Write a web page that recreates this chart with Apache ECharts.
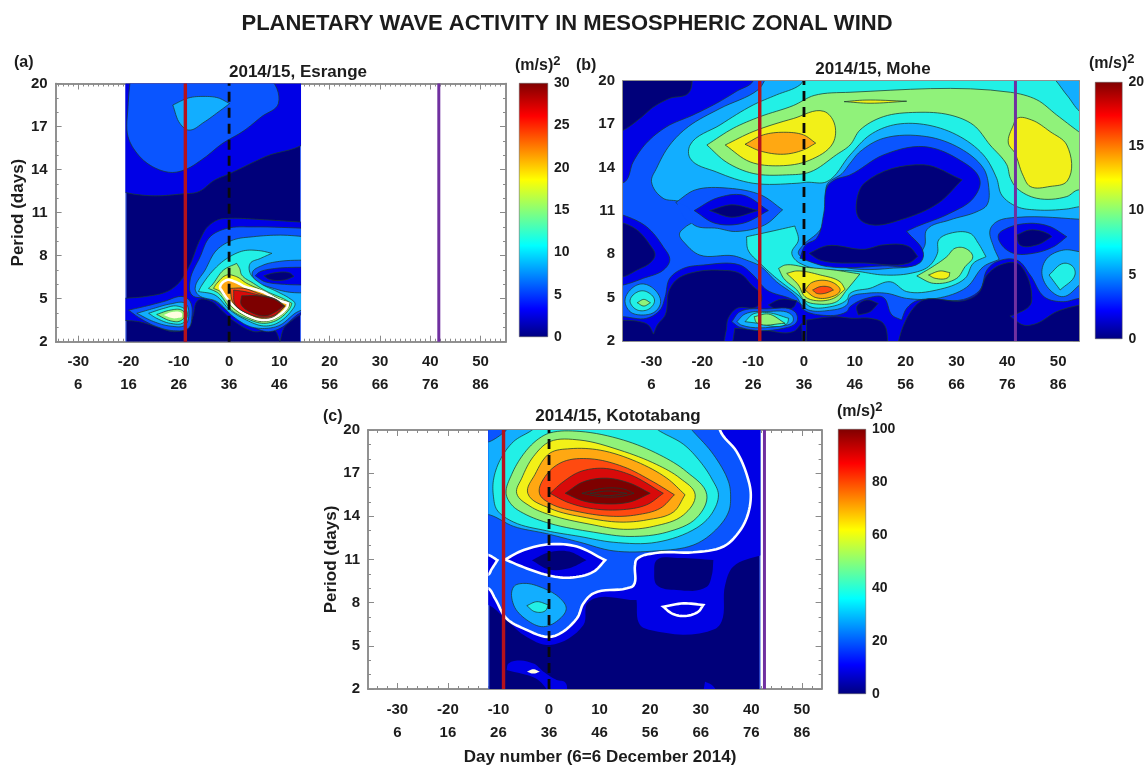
<!DOCTYPE html>
<html><head><meta charset="utf-8">
<style>html,body{margin:0;padding:0;background:#fff}#c{width:1147px;height:767px;filter:blur(0.5px)}</style>
<script src="https://cdn.jsdelivr.net/npm/echarts@6/dist/echarts.min.js"></script>
</head><body><div id="c"></div>
<script>
// ---------- contour bands (colour per band index, lowest to highest) ----------
const bandColors = ['#00007a','#0000e6','#0a55ff','#12aeff','#22f0e6','#90f27a','#f2f018','#ffa812','#ff4a10','#d80a0a','#7d0000'];
const PALE = 11; bandColors[PALE] = '#fffde0';

// ---------- axis labels ----------
const xTickLabels = [-30,-20,-10,0,10,20,30,40,50];
const dayNumberLabels = [6,16,26,36,46,56,66,76,86];
const periodTicks = [2,5,8,11,14,17,20];

// ---------- event lines (day) ----------
const esrangeLines = {red:-8.7, dash:0, purple:41.7};
const moheLines = {red:-8.7, dash:0, purple:41.6};
const kotoLines = {red:-9, dash:0, purple:42.6};

// ---------- contour outlines: [band, [[day, period],...], strokeKind]  painted in order ----------
const esrangeContours = [
 [0,[[-20.6,1],[14.3,1],[14.3,21],[-20.6,21]],'e'],
 [1,[[-22,12.57],[-20.6,12.4],[-15,12.17],[-9.4,12.3],[-6.1,12.45],[-2.9,13.26],[0,13.7],[7.2,14.9],[16,16.2],[16,21],[-22,21]]],
 [2,[[-19.6,20.5],[-20.1,18.4],[-20.1,16.3],[-18,15],[-15.2,14.2],[-11.6,13.8],[-8.7,14],[-5,14.8],[-1.4,15.8],[2.9,16.7],[6.5,17.7],[9.8,18.6],[7.6,20.5]]],
 [3,[[-11.2,18.5],[-8,19],[-5,19.1],[-2.2,19],[0.1,18.6],[-2.2,18],[-5,17.3],[-8,16.75],[-9.75,17.2]]],
 [1,[[-22,5],[-16.6,5.15],[-12.3,5.5],[-10.1,6.06],[-8,7.2],[-5.8,9.1],[-4.3,10],[-2.2,10.5],[0,10.6],[7,10.5],[16,10.3],[16,4.4],[13,3.6],[11,3],[10.1,2],[9,2.8],[5,2.7],[0.7,3.5],[-1.5,4.2],[-3.5,4.8],[-6.1,4.9],[-7.2,3.75],[-8,3.05],[-10.8,2.7],[-14.5,3.05],[-18,3.4],[-22,3.5]]],
 [2,[[-20,4.2],[-16.4,4.49],[-13,4.8],[-9.07,5.14],[-7.75,4.8],[-7.4,3.74],[-8.1,2.93],[-11.1,2.77],[-14.4,3.05],[-17.7,3.63]]],
 [3,[[-18.35,3.98],[-15,4.32],[-11.7,4.63],[-8.7,4.67],[-8,3.98],[-8.75,3.16],[-11.7,3.09],[-15,3.4]]],
 [4,[[-16,3.98],[-13,4.32],[-10.4,4.49],[-8.4,4.1],[-9.07,3.33],[-11.7,3.28],[-14.4,3.63]]],
 [5,[[-14.4,3.9],[-11.7,4.2],[-9.4,4.2],[-8.75,3.86],[-9.74,3.44],[-11.7,3.46]]],
 [PALE,[[-13,3.86],[-11.1,4.09],[-9.4,3.98],[-9.4,3.7],[-11.1,3.63]],'n'],
 [2,[[16,9.9],[4.85,10],[-0.45,9.9],[-3.77,9.32],[-5.76,7.92],[-7.75,6.3],[-7.4,5.25],[-3.77,5],[-0.45,4.2],[3.5,3.3],[7.5,2.7],[10.15,2.93],[13.5,3.86],[16,4.5]]],
 [3,[[16,9.3],[10.15,9.43],[4.85,9.32],[0.87,9.1],[-2.44,8.4],[-4.76,7],[-6.75,5.72],[-6.1,5.25],[-2.44,4.8],[0.87,3.74],[4.19,3.05],[7.5,2.93],[10.15,3.16],[13.1,3.98],[16,4.6]]],
 [2,[[16,7.7],[10,7.6],[6.5,7.3],[4.6,6.8],[5.5,6.2],[9,5.7],[12,5.45],[16,5.4]]],
 [1,[[16,7.2],[9,7.1],[6,6.85],[5.2,6.6],[7,6.2],[11,6],[16,5.95]]],
 [0,[[6.9,6.6],[9,6.8],[12,6.8],[12.9,6.55],[11,6.3],[8,6.35]]],
 [4,[[8.5,8.16],[6.2,8.34],[2.9,8.34],[-0.45,7.8],[-3.1,7],[-5.4,5.95],[-6.1,5.5],[-2.8,5.25],[0.2,4.2],[3.5,3.5],[6.8,3.1],[9.5,3.28],[12.5,4.2],[13.1,4.67],[12.1,5],[9.5,5.5],[6.2,6.07],[4.2,6.76],[4.2,7.46],[6.2,7.8]]],
 [5,[[1.5,7.46],[-1.1,7],[-3.4,5.95],[-4.1,5.72],[-2.1,5.37],[0.5,4.2],[3.85,3.56],[6.8,3.28],[9.5,3.5],[12.1,4.33],[12.5,4.67],[10.8,5],[7.5,5.5],[4.85,6.07],[2.5,6.65],[2.1,7.1]]],
 [6,[[-0.45,6.65],[-2.44,6.07],[-3.1,5.72],[-1.8,5.5],[0.87,4.32],[4.2,3.63],[6.8,3.4],[9.35,3.63],[11.8,4.4],[12,4.67],[10.15,4.95],[6.8,5.55],[3.5,6.07],[1.5,6.53]]],
 [7,[[-0.45,6.3],[-1.8,5.83],[-1.45,5.55],[1.2,4.4],[4.5,3.7],[6.8,3.51],[9.15,3.7],[11.5,4.4],[11.7,4.67],[9.8,4.9],[6.5,5.5],[3.2,5.83],[1.2,6.18]],'w'],
 [8,[[0.2,5.72],[0.87,4.67],[4.85,3.79],[6.8,3.63],[8.8,3.74],[11.15,4.49],[9.5,4.9],[6.2,5.32],[2.9,5.72]]],
 [9,[[0.9,5.6],[1.2,4.6],[4.5,3.85],[7,3.7],[9,3.85],[11,4.45],[9.3,4.95],[6,5.25],[3,5.5]]],
 [10,[[2.5,5.2],[2.4,4.6],[5,3.95],[7.3,3.8],[9.3,4.1],[10.9,4.5],[9,4.95],[5.8,5.2]]]
];

const moheContours = [
 [2,[[-37,1],[56,1],[56,21],[-37,21]],'n'],
 // large mid-value region
 [3,[[56,20.5],[56,10.4],[41.9,10.56],[37.9,10.26],[36.6,9.68],[37.3,8.53],[38.4,7.65],[35.3,7.15],[32,5.72],[26.1,4.95],[20.2,4.95],[16.3,5.3],[12.3,5.3],[9.06,5.02],[8.4,4.49],[4.5,4.1],[0.86,4.15],[-0.45,4.49],[-1.4,5.02],[-5.4,6.1],[-8.65,7.19],[-11.3,7.6],[-13.9,7.9],[-20.5,7.95],[-23.4,8.76],[-24.5,9.4],[-23.4,9.87],[-21,10.5],[-21,11.4],[-25,11.7],[-27.7,11.88],[-30,13.03],[-29,13.96],[-26.4,15.57],[-22.75,16.84],[-16.5,18.1],[-9,19.4],[-6.5,20.5]]],
 [4,[[-22.4,15.57],[-16.5,16.96],[-10,18.34],[-5.4,19.04],[-0.8,19.73],[0.9,20.5],[47.8,20.5],[51.7,19.03],[54.2,17.9],[56,17.5],[56,11.3],[54.3,11.3],[51.7,11.14],[45.8,11.07],[41.9,11.3],[38.9,12.1],[37.9,13.27],[35.3,14.88],[30.05,16.27],[23.5,17],[17.6,16.96],[13,16.27],[9.06,14.88],[4.5,13.03],[0.5,12.99],[-1.4,12.92],[-10,12.92],[-17.2,13.7],[-22.4,14.65]]],
 [5,[[-19.1,15.57],[-13.9,16.73],[-8.65,17.53],[-2.1,18.3],[2,19],[9.06,19.22],[40.6,19.22],[45.8,18.7],[49.7,17.65],[54,16.5],[56,16],[56,12.2],[54,12.46],[51.7,12],[45.8,11.88],[41.9,12.57],[40.6,13.27],[39.9,14.2],[36.6,15.57],[33.3,16.96],[28.7,17.65],[22.2,17.83],[15.6,17.53],[11,16.6],[9.06,15.57],[6.4,14.9],[1.2,13.7],[-3.4,13.5],[-10,13.6],[-15.2,14.37]]],
 [6,[[-15.5,15.57],[-10,16.5],[-2.1,17.4],[3.9,17.9],[5.94,17.1],[5.7,15.7],[1,14.5],[-4.8,14.13],[-10.6,14.4]]],
 [7,[[-11.6,15.62],[-8,16.27],[-4,16.45],[-0.1,16.27],[2.3,15.7],[-0.1,15.23],[-4,14.93],[-8.65,15.16]]],
 [6,[[7.9,18.57],[12,18.68],[20.2,18.6],[13,18.46]]],
 [6,[[41.9,17.42],[44.8,17.3],[48.4,16.5],[51.7,15.57],[51.8,13.08],[48.4,12.7],[44.5,12.7],[43.04,13.5],[41.5,15],[40.2,15.7],[41.2,16.96]]],
 // central low region
 [2,[[4.5,12.8],[7.5,13.6],[9.06,14.3],[11,15.1],[15.6,16.03],[24.15,16.15],[30.7,15.34],[35.3,13.96],[36.3,12.8],[36,11.42],[34,10.95],[28.7,10.38],[24.15,9.7],[23.8,8.65],[23.2,8.2],[22.2,7.4],[16.9,7.03],[9.06,7.03],[5.8,7.38],[0.5,7.65],[-1.1,8.07],[-0.45,8.53],[3.16,9.68],[4.8,11.07]]],
 [1,[[6,13.15],[9.06,13.5],[15.6,14.88],[23.5,15.46],[30.05,14.65],[34.6,13.15],[33.3,11.88],[28.7,10.84],[22.2,9.92],[20.2,9.6],[23.5,8.07],[22.75,7.4],[15.5,7.2],[4.6,7.15],[-0.8,7.73],[0.3,8.65],[2.46,9.1],[3.9,10.85],[4.6,12.7]]],
 [0,[[10.4,11.77],[11.9,12.93],[23.5,14.2],[31.1,13.16],[26.4,11.54],[19.1,10.4],[13.3,10.04],[10.8,10.5]]],
 [0,[[1,8.07],[4.6,8.6],[11.9,8.35],[15.5,8.65],[20.6,8.54],[22.4,7.85],[20.6,7.4],[11.9,7.4],[3.2,7.6]]],
 // lens near 11 days
 [2,[[-4.2,11.08],[-8.4,12.1],[-14.9,12.58],[-21.4,12.46],[-25.2,11.6],[-23.5,10.9],[-21.5,10],[-17,9.8],[-13.5,9.58],[-7.7,10.04]]],
 [2,[[-25,11.55],[-23,11.3],[-22,10.7],[-21.9,10.1],[-23,10.35],[-24.3,11]],'n'],
 [1,[[-21.6,11.03],[-17.1,11.9],[-12,12.1],[-7,11.03],[-12,10.15],[-17.5,10.15]]],
 [0,[[-18.55,11.03],[-14.2,11.43],[-9.1,11.03],[-14.2,10.57]]],
 // lens on the right
 [1,[[38.25,9.34],[39.9,9.8],[44.5,10.15],[48.4,9.92],[51.7,9.22],[49.1,8.53],[45.1,8.07],[41.2,8.07],[38.9,8.65]]],
 [0,[[41.9,9.34],[44.5,9.69],[48.1,9.41],[48.75,9.22],[45.8,8.65],[42.5,8.65]]],
 // low pockets at the edges
 [1,[[-10,20.5],[-10,20],[-13.2,19.3],[-17.2,18.46],[-21.8,17.65],[-27,16.84],[-31,15.7],[-33.6,14.4],[-35.2,13.03],[-37,12.9],[-37,20.5]]],
 [0,[[-21.8,20.5],[-22.75,19.15],[-26.4,18.8],[-29.6,18.2],[-32.3,17.4],[-35.5,16.6],[-37,16.4],[-37,20.5]]],
 [1,[[-35.5,10.7],[-31,9.92],[-27.7,8.53],[-26.4,7.6],[-27.7,6.9],[-31.6,6.34],[-35.5,5.88],[-37,5.8],[-37,10.8]]],
 [0,[[-35.5,10.15],[-32.9,9.7],[-30.3,8.65],[-29.3,7.95],[-30.3,7.4],[-32.9,6.9],[-35.5,6.45],[-37,6.4],[-37,10.2]]],
 [1,[[-37,3.7],[-35.5,3.68],[-31,3.57],[-28.3,4.15],[-27.3,5.07],[-26.4,6.34],[-23.7,7.03],[-19.8,7.26],[-12.6,7.26],[-10,6.57],[-7.3,5.53],[-2.75,4.95],[-0.8,4.6],[-0.2,4.2],[3.16,3.8],[8.4,4.03],[9.06,4.38],[13,5.02],[15.6,5.02],[17.3,3.8],[19.2,3.45],[20.2,4.26],[22.2,4.79],[31.4,4.88],[34.6,5.53],[36,6.92],[37.9,7.49],[41.9,7.6],[44.5,6.57],[47.4,5.02],[51,4.72],[54.3,4.95],[56,4.9],[56,1],[-37,1]]],
 [0,[[-37,3.45],[-32.3,3.34],[-30.6,3.1],[-29.6,2.48],[-28.85,3.1],[-27.3,3.8],[-26.5,5.53],[-24.7,6.34],[-21.1,6.8],[-16.5,6.9],[-12.6,6.68],[-10.3,5.88],[-8.3,5.07],[-9.3,4.37],[-13.2,4.26],[-14.9,3.57],[-15.35,2.65],[-16.5,1.5],[-37,1]]],
 [0,[[-14.2,1.5],[-13.6,2.88],[-8,2.76],[-2.1,2.65],[-0.45,3.22],[-0.25,1.5]]],
 [0,[[0.5,1.5],[0.5,3.45],[5.8,3.68],[9.7,3.57],[13,3.57],[15.6,3.22],[16.6,1.5]]],
 [0,[[18.2,1.5],[19.6,3.1],[21.5,4.26],[23.5,4.84],[31.4,4.79],[34.3,5.3],[36,6.57],[38.6,7.26],[41.9,7.38],[43.8,6.57],[44.8,5.07],[44.5,4.49],[41.9,3.9],[40.5,3.73],[43.2,3.1],[45.8,3.22],[49.7,4.03],[54.3,4.49],[56.3,4.6],[56,1]]],
 [0,[[10.4,4.38],[12.3,4.84],[14.6,4.6],[13,4.03],[10.7,3.8]]],
 [0,[[-7,4.5],[-4.7,4.88],[-1.4,4.79],[-2.1,4.33],[-5.4,4.19]]],
 // lobe near 5 days, far left
 [3,[[-35.2,4.84],[-33.6,5.72],[-31.6,5.95],[-29.3,5.53],[-28.2,4.72],[-29.3,4.03],[-31.9,3.8],[-34.2,4.03]]],
 [4,[[-34.2,4.84],[-32.6,5.42],[-31,5.42],[-29.4,4.84],[-30.3,4.26],[-32.3,4.1],[-33.7,4.38]]],
 [5,[[-32.8,4.65],[-31.5,4.88],[-30.2,4.65],[-31.5,4.42]]],
 // lobe near 3.5 days
 [2,[[-14.2,3.34],[-12.6,4.03],[-7.3,4.22],[-1.8,4.03],[-1.4,3.34],[-4,2.88],[-12.6,2.95]]],
 [3,[[-13.2,3.34],[-11.6,3.87],[-7.3,4.05],[-2.4,3.8],[-2.2,3.34],[-4.7,3.04],[-12.3,3.1]]],
 [4,[[-11.6,3.34],[-10,3.87],[-7,3.96],[-3,3.57],[-3.4,3.18],[-10,3.27]]],
 [5,[[-9.8,3.68],[-7,3.87],[-3.7,3.22],[-9.3,3.27]]],
 // ridge from 8 to 5 days
 [4,[[-11.3,9.22],[-6.7,9.57],[-1.8,9.96],[-1.1,8.99],[-2.4,8.07],[-0.8,7.38],[11,6.8],[15.6,6.57],[20.9,6.68],[24.5,7.15],[26.25,8.07],[26.5,9],[28.7,9.45],[32.7,9.45],[34.3,8.76],[35.8,7.84],[33.3,7.38],[31.7,6.34],[26.1,5.53],[20.2,5.42],[17,6.1],[13,5.65],[9.06,5.3],[8.4,4.84],[4.5,4.33],[1.2,4.38],[-0.8,5.07],[-5.4,6.34],[-8.65,7.38],[-11,8.3]]],
 [5,[[-5,7.03],[-3.7,7.26],[0.5,7.1],[5.8,6.92],[11,6.64],[8.4,5.53],[6.4,4.72],[2.5,4.56],[0.2,4.79],[-1.4,5.53],[-4,6.34]]],
 [6,[[-3.4,6.68],[-1.4,6.85],[3.2,6.57],[7.1,6.1],[8.1,5.58],[5.8,4.95],[2.5,4.79],[0.2,5.07],[-1.1,5.88]]],
 [7,[[0.2,5.53],[1.5,6.04],[4.5,6.18],[6.8,5.76],[7.1,5.48],[5.1,5.02],[2.2,5.02]]],
 [8,[[1.7,5.53],[3.16,5.76],[5.1,5.72],[5.8,5.53],[4.1,5.3],[2.5,5.3]]],
 [5,[[22.2,6.5],[24.8,7.03],[28.1,7.84],[29.7,8.42],[31.7,8.42],[33.2,7.84],[31.7,7.15],[30.05,6.34],[25.5,5.99]]],
 [6,[[24.5,6.57],[26.8,6.85],[28.7,6.73],[28.4,6.41],[25.8,6.34]]],
 // lobe at 7 days, right
 [3,[[46.8,6.68],[47.8,7.72],[51.1,8.3],[54.3,8.18],[56,8.1],[56,5.2],[54.3,5.9],[51,5.07],[48.4,5.53]]],
 [4,[[48.2,6.57],[51.1,7.38],[52.9,7.15],[53.3,6.57],[50.4,5.53]]]
];

const kotoContours = [
 [0,[[-12,1],[41.8,1],[41.8,21],[-12,21]],'e'],
 [1,[[-14,20.5],[43,20.5],[43,11.4],[42,11.31],[36.4,10.5],[34.8,9.2],[34.1,6.68],[32.8,6.17],[20,6.1],[18,6.45],[17.3,8.18],[7.8,8.07],[6.8,6.45],[0.2,5.06],[-5,5.75],[-9,7],[-12,7.84],[-14,7.9]],'n'],
 [0,[[21.3,10.96],[25.9,11.1],[32.5,10.96],[32.2,9.92],[31.2,9.11],[25.2,8.88],[21.3,9.23],[20.8,10.15]],'n'],
 [1,[[-8,3.78],[-3.1,3.78],[-1.1,3.2],[1.5,2.63],[3.2,2.46],[3.6,1.5],[1.2,1.5],[-2.4,2.69],[-8.4,3.32]],'n'],
 [1,[[30.85,2.51],[32.2,2.28],[33.3,1.8],[30.5,1.8]],'n'],
 [PALE,[[-4.4,3.2],[-3.1,3.37],[-1.8,3.2],[-3.1,3.07]],'n'],
 [1,[[22.6,7.72],[26.6,7.95],[30.5,7.84],[29.5,7.37],[26.6,7.07],[24.25,7.26]],'w'],
 // white contour
 [2,[[33.8,20.5],[33.8,20],[37.1,18.5],[39.1,16.9],[39.9,15.5],[39.1,13.9],[37.1,12.7],[34.5,11.9],[28.5,11.5],[21,11.45],[17.3,11],[17,10.6],[16.7,9.2],[15.4,9],[8.8,8.65],[6.8,7.95],[5.5,6.9],[0.5,5.64],[-5,6.2],[-8.4,6.9],[-10.7,8.3],[-12,9],[-14,9.1],[-14,20.5]],'w'],
 [3,[[-8.7,19.9],[-11.7,19.2],[-14,19],[-14,14.2],[-11.7,14.1],[-7,13.3],[-0.5,12.8],[6.1,12.2],[12.7,11.6],[21.3,11.6],[28.5,12],[32.5,12.9],[35.5,14.3],[35.9,15.5],[35.5,16.4],[32.5,18.3],[28.5,19.9],[26.9,20.5],[-7,20.5]]],
 [4,[[-3.75,19.9],[-7,19.2],[-9.7,17.9],[-11,16.5],[-11,15.4],[-10.3,14.45],[-7,13.6],[-0.5,13],[6.1,12.6],[12.7,12.2],[21.3,12.2],[29.2,13.2],[32.2,14.2],[33.5,15.5],[32.2,16.6],[29.9,17.8],[26.6,19],[22,19.9],[19.3,20.5],[-1.1,20.5]]],
 [5,[[-8.5,15.6],[-7.4,16.9],[-5.1,18.3],[-2.4,19.3],[0.2,19.8],[6.1,19.9],[14.7,19.3],[21.9,18.27],[27.2,17.1],[31.2,15.5],[29.2,13.9],[23.3,12.9],[16,12.6],[8.8,12.9],[0.2,13.5],[-5,14.2],[-7.4,14.8]]],
 [6,[[-6.4,15.6],[-5.4,16.65],[-3.1,18.15],[0.2,19.2],[6.1,19.3],[14,18.6],[21.3,17.6],[25.9,16.65],[28.9,15.5],[26.6,14.1],[20.6,13.3],[14.7,13.1],[8.1,13.45],[0.2,14.1],[-3.75,14.7]]],
 [7,[[-4.2,15.6],[-2.8,16.9],[0.2,18.4],[4.15,18.7],[10.1,18.6],[17.3,17.8],[23.3,16.65],[26.9,15.5],[24.6,14.3],[19.3,13.75],[14,13.6],[7.45,13.9],[0.2,14.55]]],
 [8,[[-1.9,15.6],[-0.5,16.9],[2.8,17.8],[8.1,18],[14.7,17.45],[20.6,16.4],[24.8,15.5],[22,14.56],[17.3,14.1],[12.7,14],[6.1,14.3],[0.2,14.9]]],
 [9,[[0.2,15.6],[2.8,16.4],[6.1,17.1],[10.7,17.34],[16,16.9],[22.6,15.6],[19.3,14.8],[14,14.45],[8.1,14.56],[3.5,15]]],
 [10,[[3.2,15.6],[6.8,16.4],[11.4,16.65],[16,16.3],[20,15.6],[16,15],[11.4,14.86],[6.8,15.07]]],
 [10,[[6.5,15.6],[10.7,15.95],[14.7,15.9],[16.8,15.6],[14,15.37],[10.1,15.37]]],
 [10,[[8.1,15.6],[11.7,15.76],[15.4,15.6],[11.7,15.44]]],
 // holes of the white contour near 11 days
 [1,[[-8.7,11],[-5,11.66],[0.2,12.06],[5.5,11.9],[11.1,10.95],[8.8,10.15],[4.15,9.74],[0.2,9.87],[-4.4,10.38]],'w'],
 [0,[[-3.4,10.95],[0,11.5],[4,11.55],[7.4,10.95],[4,10.4],[0,10.3]],'n'],
 [1,[[-14,11.4],[-11.9,11.3],[-10.2,10.95],[-11.4,10.3],[-12,9.95],[-14,9.9]],'w'],
 // lobe near 8 days
 [3,[[-7,9.1],[-5,9.34],[-1.1,9],[2.2,8.3],[3.4,7.6],[2.2,6.9],[-1.1,6.33],[-4.4,6.8],[-7,7.84]]],
 [4,[[-4.4,7.79],[-2.4,8.07],[-0.1,7.84],[-0.8,7.42],[-2.8,7.37]]]
];

// ---------- colour bar ----------
const jetStops = [[0,'#00007f'],[0.11,'#0000ff'],[0.36,'#00ffff'],[0.62,'#ffff00'],[0.87,'#ff0000'],[1,'#7f0000']];

// ---------- panels ----------
const panels = [
 {name:'2014/15, Esrange', tag:'(a)', contours:esrangeContours, lines:esrangeLines, grid:[55.6,83.5,450.4,258.2],
  xMin:-34.5, xMax:55.06, dataRect:[-20.6,14.3], minorStep:1, yName:'Period (days)',
  titleAt:[298,63.5], tagAt:[14,55], unitAt:[515,55], bar:[519,83,29,254], barMax:30, barStep:5},
 {name:'2014/15, Mohe', tag:'(b)', contours:moheContours, lines:moheLines, grid:[623,81,456,260],
  xMin:-35.6, xMax:54.1, dataRect:[-35.6,54.1], minorStep:1, yName:'',
  titleAt:[873,60.5], tagAt:[576,58], unitAt:[1089,53], bar:[1095,82,28,257], barMax:20, barStep:5},
 {name:'2014/15, Kototabang', tag:'(c)', contours:kotoContours, lines:kotoLines, grid:[368,430,453.6,259],
  xMin:-35.8, xMax:53.9, dataRect:[-12,41.8], minorStep:2, yName:'Period (days)',
  titleAt:[618,407.5], tagAt:[323,409], unitAt:[837,401], bar:[838,429,28,265], barMax:100, barStep:20}
];

const FONT='"Liberation Sans",Arial,sans-serif', INK='#1c1c1c', EDGE='#8a8a8a';
const bold=(size)=>({fontFamily:FONT,fontWeight:'bold',fontSize:size,color:INK});
const grids=[],xAxes=[],yAxes=[],series=[];
const titles=[
 {text:'PLANETARY WAVE ACTIVITY IN MESOSPHERIC ZONAL WIND',left:567,top:13,padding:0,textAlign:'center',textStyle:bold(22)},
 {text:'Day number (6=6 December 2014)',left:600,top:749,padding:0,textAlign:'center',textStyle:bold(17)}
];
const range=(a,b,s)=>{const o=[];for(let v=a;v<=b+1e-9;v+=s)o.push(v);return o;};

// outline through the vertices, keeping sharp tips where the outline really turns
function curve(pts){
  const n=pts.length,tan=[],out=[];
  const unit=(a,b)=>{const dx=b[0]-a[0],dy=b[1]-a[1],l=Math.hypot(dx,dy)||1;return [dx/l,dy/l];};
  for(let i=0;i<n;i++){
    const p=pts[(i+n-1)%n],c=pts[i],q=pts[(i+1)%n],a=unit(p,c),b=unit(c,q);
    const sharp=a[0]*b[0]+a[1]*b[1]<0.15;
    tan.push(sharp?{a,b}:(()=>{const m=unit([0,0],[a[0]+b[0],a[1]+b[1]]);return {a:m,b:m};})());
  }
  for(let i=0;i<n;i++){
    const c=pts[i],q=pts[(i+1)%n],L=Math.hypot(q[0]-c[0],q[1]-c[1]);
    const t0=tan[i].b,t1=tan[(i+1)%n].a;
    for(let k=0;k<8;k++){
      const t=k/8,t2=t*t,t3=t2*t,h00=2*t3-3*t2+1,h10=t3-2*t2+t,h01=-2*t3+3*t2,h11=t3-t2;
      out.push([h00*c[0]+h10*L*t0[0]+h01*q[0]+h11*L*t1[0],h00*c[1]+h10*L*t0[1]+h01*q[1]+h11*L*t1[1]]);
    }
  }
  return out;
}

panels.forEach(p=>{
  const gi=grids.length;
  grids.push({left:p.grid[0],top:p.grid[1],width:p.grid[2],height:p.grid[3]});
  const xFirst=xAxes.length,yFirst=yAxes.length;
  const minorX=range(-34,54,p.minorStep).filter(v=>v>p.xMin&&v<p.xMax);
  const minorY=range(2,20,1);
  const baseX={type:'value',gridIndex:gi,min:p.xMin,max:p.xMax,splitLine:{show:false},
    axisLine:{onZero:false,lineStyle:{color:EDGE,width:1.5}}};
  const baseY={type:'value',gridIndex:gi,min:2,max:20,splitLine:{show:false},
    axisLine:{onZero:false,lineStyle:{color:EDGE,width:1.5}}};
  const tick=(vals,len)=>({show:true,inside:true,length:len,customValues:vals,lineStyle:{color:EDGE,width:1}});
  xAxes.push(
   {...baseX,position:'bottom',axisTick:tick(xTickLabels,6),
    axisLabel:{show:true,customValues:xTickLabels,margin:9,lineHeight:23,fontFamily:FONT,fontWeight:'bold',fontSize:15,color:INK,
      formatter:v=>v+'\n'+dayNumberLabels[xTickLabels.indexOf(v)]}},
   {...baseX,position:'bottom',axisLabel:{show:false},axisTick:tick(minorX,3)},
   {...baseX,position:'top',axisLabel:{show:false},axisTick:tick(xTickLabels,6)},
   {...baseX,position:'top',axisLabel:{show:false},axisTick:tick(minorX,3)}
  );
  yAxes.push(
   {...baseY,position:'left',axisTick:tick(periodTicks,6),name:p.yName,nameLocation:'middle',nameRotate:90,nameGap:26,
    nameTextStyle:bold(17),
    axisLabel:{show:true,customValues:periodTicks,margin:8,fontFamily:FONT,fontWeight:'bold',fontSize:15,color:INK}},
   {...baseY,position:'left',axisLabel:{show:false},axisTick:tick(minorY,3)},
   {...baseY,position:'right',axisLabel:{show:false},axisTick:tick(periodTicks,6)},
   {...baseY,position:'right',axisLabel:{show:false},axisTick:tick(minorY,3)}
  );
  titles.push(
   {text:p.name,left:p.titleAt[0],top:p.titleAt[1],padding:0,textAlign:'center',textStyle:bold(17)},
   {text:p.tag,left:p.tagAt[0],top:p.tagAt[1],padding:0,textStyle:bold(16)},
   {text:'(m/s){s|2}',left:p.unitAt[0],top:p.unitAt[1],padding:0,textStyle:{...bold(16),rich:{s:{...bold(13),padding:[0,0,9,0]}}}}
  );
  // filled contours
  series.push({
    type:'custom',coordinateSystem:'cartesian2d',xAxisIndex:xFirst,yAxisIndex:yFirst,z:2,clip:true,silent:true,
    data:p.contours.map((c,i)=>[i]),
    renderItem:(params,api)=>{
      const c=p.contours[params.dataIndex];
      const tl=api.coord([p.dataRect[0],20]),br=api.coord([p.dataRect[1],2]);
      const kind=c[2];
      const stroke=kind==='w'?'#ffffff':kind==='n'?null:kind==='e'?'#3f66f0':'rgba(25,60,50,0.75)';
      return {type:'group',
        clipPath:{type:'rect',shape:{x:tl[0],y:tl[1],width:br[0]-tl[0],height:br[1]-tl[1]}},
        children:[{type:'polygon',
          shape:{points:curve(c[1].map(pt=>api.coord(pt)))},
          style:{fill:bandColors[c[0]],stroke:stroke,lineWidth:kind==='w'?2.6:kind==='e'?2:1}}]};
    }
  });
  // event lines
  const vline=(x,color,width,type)=>({type:'line',xAxisIndex:xFirst,yAxisIndex:yFirst,z:6,symbol:'none',silent:true,clip:false,
    data:[[x,2],[x,20]],lineStyle:{color,width,type}});
  series.push(vline(p.lines.red,'#b5121b',3.4,'solid'));
  series.push(vline(p.lines.dash,'#0a0a0a',2.8,[10,6]));
  series.push(vline(p.lines.purple,'#7030a0',3,'solid'));
  // colour bar
  const bi=grids.length;
  grids.push({left:p.bar[0],top:p.bar[1],width:p.bar[2],height:p.bar[3]});
  xAxes.push({type:'category',gridIndex:bi,data:[''],show:false});
  yAxes.push({type:'value',gridIndex:bi,position:'right',min:0,max:p.barMax,interval:p.barStep,splitLine:{show:false},
    axisLine:{show:false},axisTick:{show:false},
    axisLabel:{margin:6,fontFamily:FONT,fontWeight:'bold',fontSize:14,color:INK}});
  series.push({type:'bar',xAxisIndex:xAxes.length-1,yAxisIndex:yAxes.length-1,barWidth:'100%',silent:true,
    data:[p.barMax],
    itemStyle:{borderColor:'#555',borderWidth:0.5,color:{type:'linear',x:0,y:1,x2:0,y2:0,
      colorStops:jetStops.map(s=>({offset:s[0],color:s[1]}))}}});
});

const chart=echarts.init(document.getElementById('c'),null,{renderer:'canvas'});
chart.setOption({animation:false,backgroundColor:'#fff',title:titles,grid:grids,xAxis:xAxes,yAxis:yAxes,series});
</script></body></html>
